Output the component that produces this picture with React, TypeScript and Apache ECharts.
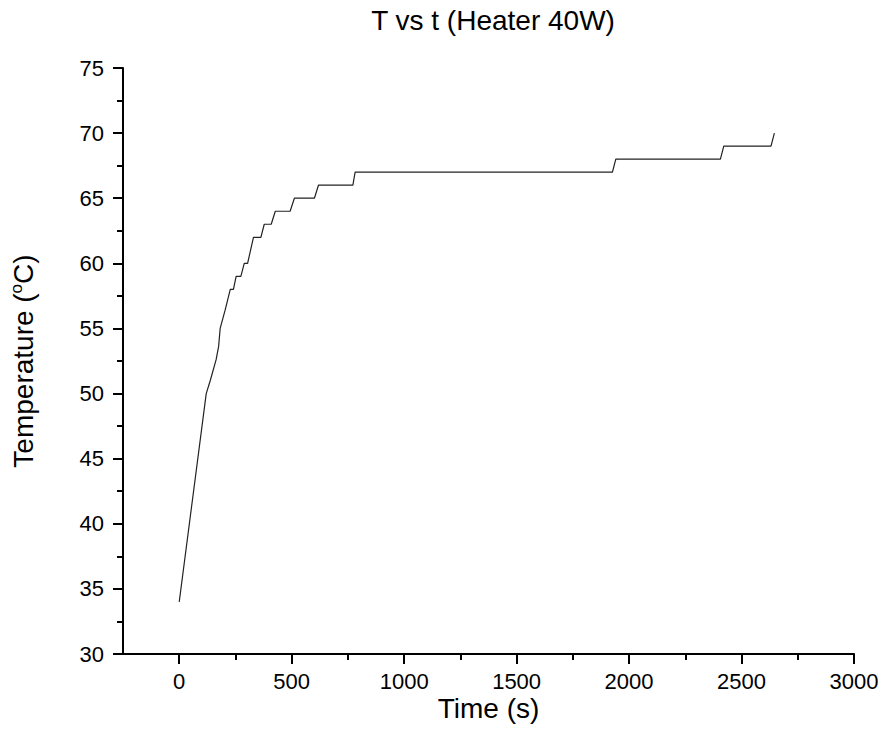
import React, { useEffect, useRef } from "react";
import * as echarts from "echarts";

const times = [0, 60, 120, 138, 164, 175, 182, 204, 227, 241, 253, 274, 289, 304, 330, 363, 378, 409, 427, 493, 512, 601, 619, 772, 782, 1926, 1941, 2406, 2421, 2631, 2646];
const temps = [34, 42, 50, 51, 52.6, 53.6, 55, 56.4, 58, 58, 59, 59, 60, 60, 62, 62, 63, 63, 64, 64, 65, 65, 66, 66, 67, 67, 68, 68, 69, 69, 70];
const xMajorTicks = [0, 500, 1000, 1500, 2000, 2500, 3000];
const xMinorTicks = [250, 750, 1250, 1750, 2250, 2750];

const FONT = "Liberation Sans, Arial, sans-serif";

export default function App() {
  const ref = useRef<HTMLDivElement>(null);
  useEffect(() => {
    if (!ref.current) return;
    const chart = echarts.init(ref.current, undefined, { renderer: "svg" });
    const axisLine = { show: true, onZero: false, lineStyle: { color: "#000", width: 2 } };
    chart.setOption({
      animation: false,
      backgroundColor: "#fff",
      title: {
        text: "T vs t (Heater 40W)",
        left: 480,
        textAlign: "center",
        top: 1,
        textStyle: { fontFamily: FONT, fontSize: 28, fontWeight: "normal", color: "#000" },
      },
      grid: { left: 115, right: 26, top: 68, bottom: 87, outerBoundsMode: "none", containLabel: false },
      xAxis: [
        {
          type: "value",
          min: -250,
          max: 3000,
          interval: 250,
          position: "bottom",
          splitLine: { show: false },
          axisLine,
          axisTick: { show: true, length: 10, customValues: xMajorTicks, lineStyle: { color: "#000", width: 2 } },
          axisLabel: {
            customValues: xMajorTicks,
            formatter: (v: number) => String(v),
            margin: 16,
            fontFamily: FONT,
            fontSize: 22,
            color: "#000",
          },
          name: "Time (s)",
          nameLocation: "middle",
          nameGap: 40,
          nameMoveOverlap: false,
          nameTextStyle: { fontFamily: FONT, fontSize: 28, color: "#000" },
        },
        {
          type: "value",
          min: -250,
          max: 3000,
          interval: 250,
          position: "bottom",
          splitLine: { show: false },
          axisLine: { show: false, onZero: false },
          axisTick: { show: true, length: 6, customValues: xMinorTicks, lineStyle: { color: "#000", width: 2 } },
          axisLabel: { show: false },
        },
      ],
      yAxis: {
        type: "value",
        min: 30,
        max: 75,
        interval: 5,
        splitLine: { show: false },
        axisLine,
        axisTick: { show: true, length: 10, lineStyle: { color: "#000", width: 2 } },
        minorTick: { show: true, splitNumber: 2, length: 6, lineStyle: { color: "#000", width: 2 } },
        axisLabel: { margin: 19, fontFamily: FONT, fontSize: 22, color: "#000" },
        name: "{t|Temperature (}{sup|o}{t|C)}",
        nameLocation: "middle",
        nameGap: 84,
        nameMoveOverlap: false,
        nameTextStyle: {
          fontFamily: FONT,
          fontSize: 28,
          color: "#000",
          rich: {
            t: { fontFamily: FONT, fontSize: 28, color: "#000" },
            sup: { fontFamily: FONT, fontSize: 17, color: "#000", padding: [0, 0, 14, 0] },
          },
        },
      },
      series: [
        {
          type: "line",
          xAxisIndex: 0,
          data: times.map((t, i) => [t, temps[i]]),
          showSymbol: false,
          lineStyle: { color: "#222", width: 1.2 },
        },
      ],
    });
    return () => chart.dispose();
  }, []);
  return <div ref={ref} style={{ width: 872, height: 741, marginTop: -8 }} />;
}
